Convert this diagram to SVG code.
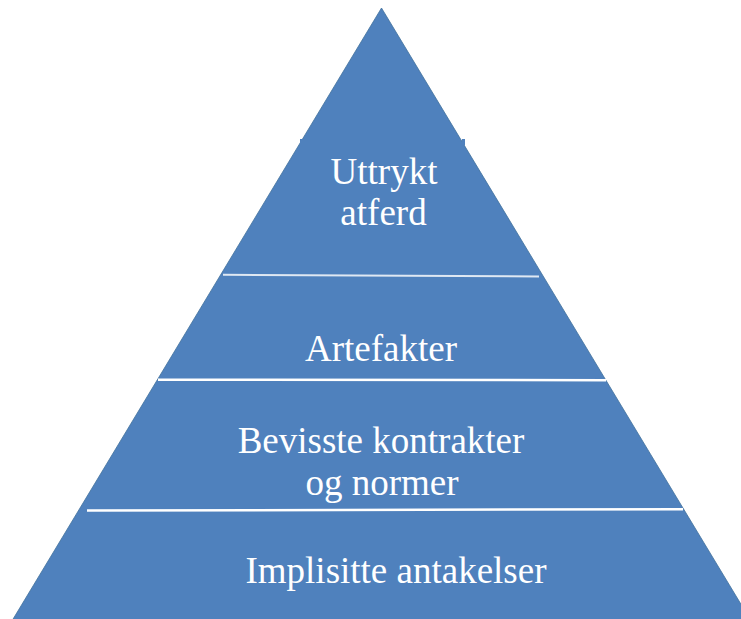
<svg xmlns="http://www.w3.org/2000/svg" width="741" height="619" viewBox="0 0 741 619">
  <style>
    .lbl { font-family: "Liberation Serif", "Times New Roman", serif; font-size: 37px; fill: #ffffff; text-anchor: middle; }
    .sep { stroke: #ffffff; stroke-width: 2.5; stroke-linecap: butt; }
    .body { fill: #4F81BD; stroke: #41719C; stroke-width: 0.8; }
  </style>
  <rect width="741" height="619" fill="#ffffff"/>
  <g id="pyramid">
    <polygon class="body" points="381.5,8 12.5,620 750.5,620"/>
    <rect x="300" y="139" width="3" height="6" fill="#4F81BD"/>
    <rect x="462" y="139" width="3" height="6" fill="#4F81BD"/>
  </g>
  <g id="connectors">
    <line class="sep" x1="223" y1="274.7" x2="539" y2="276.5" style="stroke:#dfe8f3;stroke-width:2"/>
    <line class="sep" x1="158" y1="379.7" x2="606" y2="380.2"/>
    <line class="sep" x1="87" y1="510.6" x2="683" y2="509.2"/>
  </g>
  <g id="layer-uttrykt-atferd">
    <text class="lbl" x="384" y="184">Uttrykt</text>
    <text class="lbl" x="383.5" y="225">atferd</text>
  </g>
  <g id="layer-artefakter">
    <text class="lbl" x="381" y="360.5">Artefakter</text>
  </g>
  <g id="layer-bevisste">
    <text class="lbl" x="381" y="452.5">Bevisste kontrakter</text>
    <text class="lbl" x="382" y="495">og normer</text>
  </g>
  <g id="layer-implisitte">
    <text class="lbl" x="396" y="582.5">Implisitte antakelser</text>
  </g>
</svg>
